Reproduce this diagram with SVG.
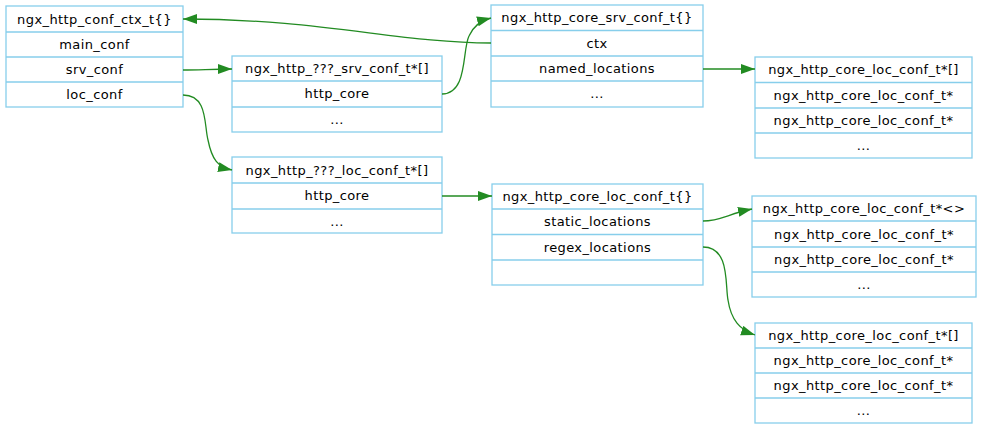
<svg xmlns="http://www.w3.org/2000/svg" width="981" height="429" viewBox="0 0 981 429">
<defs>
<style>
.box{fill:#fff;stroke:#87ceeb;stroke-width:1.3}
.sep{stroke:#87ceeb;stroke-width:1.3}
text{font-family:"DejaVu Sans",Verdana,sans-serif;font-size:13px;letter-spacing:0.4px;fill:#000;text-anchor:middle}
.e{fill:none;stroke:#228b22;stroke-width:1.3}
</style>
<marker id="ah" markerUnits="userSpaceOnUse" markerWidth="15" markerHeight="11" refX="14" refY="5" orient="auto" viewBox="0 0 15 11">
<path d="M0,0 L14,5 L0,10 z" fill="#228b22"/>
</marker>
</defs>
<rect width="981" height="429" fill="#fff"/>

<g id="ngx_http_conf_ctx_t">
<rect class="box" x="6" y="6" width="177" height="101"/>
<line class="sep" x1="6" y1="32" x2="183" y2="32"/>
<line class="sep" x1="6" y1="57" x2="183" y2="57"/>
<line class="sep" x1="6" y1="82" x2="183" y2="82"/>
<text x="94.5" y="24">ngx_http_conf_ctx_t{}</text>
<text x="94.5" y="49">main_conf</text>
<text x="94.5" y="74">srv_conf</text>
<text x="94.5" y="99">loc_conf</text>
</g>

<g id="srv_conf_array">
<rect class="box" x="232" y="56" width="210" height="76"/>
<line class="sep" x1="232" y1="81" x2="442" y2="81"/>
<line class="sep" x1="232" y1="107" x2="442" y2="107"/>
<text x="337" y="73">ngx_http_???_srv_conf_t*[]</text>
<text x="337" y="98">http_core</text>
<text x="337" y="124">...</text>
</g>

<g id="ngx_http_core_srv_conf_t">
<rect class="box" x="491" y="5" width="212" height="102"/>
<line class="sep" x1="491" y1="30.5" x2="703" y2="30.5"/>
<line class="sep" x1="491" y1="56" x2="703" y2="56"/>
<line class="sep" x1="491" y1="81" x2="703" y2="81"/>
<text x="597" y="22">ngx_http_core_srv_conf_t{}</text>
<text x="597" y="48">ctx</text>
<text x="597" y="73">named_locations</text>
<text x="597" y="98">...</text>
</g>

<g id="named_locations_array">
<rect class="box" x="755" y="57" width="217" height="101"/>
<line class="sep" x1="755" y1="82.5" x2="972" y2="82.5"/>
<line class="sep" x1="755" y1="108" x2="972" y2="108"/>
<line class="sep" x1="755" y1="133" x2="972" y2="133"/>
<text x="863.5" y="74">ngx_http_core_loc_conf_t*[]</text>
<text x="863.5" y="100">ngx_http_core_loc_conf_t*</text>
<text x="863.5" y="125">ngx_http_core_loc_conf_t*</text>
<text x="863.5" y="150">...</text>
</g>

<g id="loc_conf_array">
<rect class="box" x="232" y="157" width="210" height="76"/>
<line class="sep" x1="232" y1="183" x2="442" y2="183"/>
<line class="sep" x1="232" y1="209" x2="442" y2="209"/>
<text x="337" y="175">ngx_http_???_loc_conf_t*[]</text>
<text x="337" y="200">http_core</text>
<text x="337" y="226">...</text>
</g>

<g id="ngx_http_core_loc_conf_t">
<rect class="box" x="492" y="184" width="211" height="101"/>
<line class="sep" x1="492" y1="209" x2="703" y2="209"/>
<line class="sep" x1="492" y1="234.5" x2="703" y2="234.5"/>
<line class="sep" x1="492" y1="260" x2="703" y2="260"/>
<text x="597.5" y="201">ngx_http_core_loc_conf_t{}</text>
<text x="597.5" y="226">static_locations</text>
<text x="597.5" y="252">regex_locations</text>
</g>

<g id="static_locations_tree">
<rect class="box" x="752" y="196" width="224" height="101"/>
<line class="sep" x1="752" y1="221" x2="976" y2="221"/>
<line class="sep" x1="752" y1="247" x2="976" y2="247"/>
<line class="sep" x1="752" y1="272" x2="976" y2="272"/>
<text x="864" y="213">ngx_http_core_loc_conf_t*&lt;&gt;</text>
<text x="864" y="239">ngx_http_core_loc_conf_t*</text>
<text x="864" y="264">ngx_http_core_loc_conf_t*</text>
<text x="864" y="289">...</text>
</g>

<g id="regex_locations_array">
<rect class="box" x="755" y="323" width="217" height="100"/>
<line class="sep" x1="755" y1="348" x2="972" y2="348"/>
<line class="sep" x1="755" y1="373" x2="972" y2="373"/>
<line class="sep" x1="755" y1="398" x2="972" y2="398"/>
<text x="863.5" y="340">ngx_http_core_loc_conf_t*[]</text>
<text x="863.5" y="365">ngx_http_core_loc_conf_t*</text>
<text x="863.5" y="390">ngx_http_core_loc_conf_t*</text>
<text x="863.5" y="415">...</text>
</g>

<g id="connectors">
<path class="e" marker-end="url(#ah)" d="M491,43 C400,43 320,19 183,19"/>
<path class="e" marker-end="url(#ah)" d="M183,70 C200,70 212,69 232,69"/>
<path class="e" marker-end="url(#ah)" d="M183,95 C208,95 204,125 208,140 C212,160 218,167 232,170"/>
<path class="e" marker-end="url(#ah)" d="M442,94 C468,94 462,50 469,36 C473,27 479,21 491,18"/>
<path class="e" marker-end="url(#ah)" d="M703,69 C720,69 735,69 755,69"/>
<path class="e" marker-end="url(#ah)" d="M442,196 C460,196 475,196 492,196"/>
<path class="e" marker-end="url(#ah)" d="M703,221 C720,221 728,214 752,209"/>
<path class="e" marker-end="url(#ah)" d="M703,247 C730,247 725,285 728,300 C731,320 740,330 755,335"/>
</g>
</svg>
